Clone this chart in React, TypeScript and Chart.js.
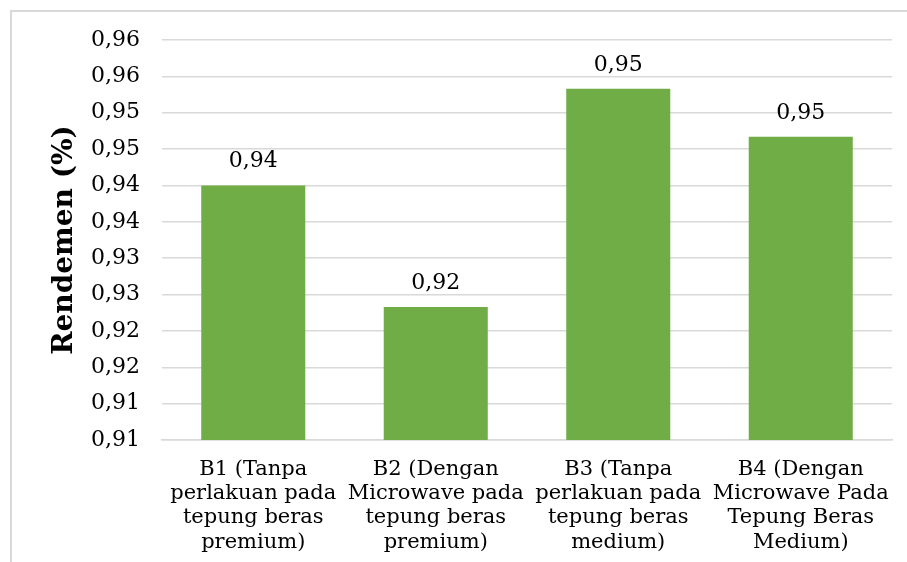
import React, { useEffect, useRef } from "react";
import { Chart, registerables } from "chart.js";

Chart.register(...registerables);

const categories: string[][] = [
  ["B1 (Tanpa", "perlakuan pada", "tepung beras", "premium)"],
  ["B2 (Dengan", "Microwave pada", "tepung beras", "premium)"],
  ["B3 (Tanpa", "perlakuan pada", "tepung beras", "medium)"],
  ["B4 (Dengan", "Microwave Pada", "Tepung Beras", "Medium)"],
];
const rendemen: number[] = [0.94, 0.9233, 0.9533, 0.9467];
const yTickLabels: string[] = [
  "0,91", "0,91", "0,92", "0,92", "0,93", "0,93",
  "0,94", "0,94", "0,95", "0,95", "0,96", "0,96",
];

const FONT = "'DejaVu Serif', 'Liberation Serif', serif";

const valueLabels = {
  id: "valueLabels",
  afterDatasetsDraw(chart: any) {
    const ctx = chart.ctx;
    const meta = chart.getDatasetMeta(0);
    ctx.save();
    ctx.font = `22px ${FONT}`;
    ctx.fillStyle = "#000000";
    ctx.textAlign = "center";
    ctx.textBaseline = "alphabetic";
    meta.data.forEach((el: any, i: number) => {
      const v = chart.data.datasets[0].data[i] as number;
      ctx.fillText(v.toFixed(2).replace(".", ","), el.x, el.y - 18);
    });
    ctx.restore();
  },
};

export default function App() {
  const ref = useRef<HTMLCanvasElement>(null);
  useEffect(() => {
    if (!ref.current) return;
    const chart = new Chart(ref.current, {
      type: "bar",
      data: {
        labels: categories,
        datasets: [
          {
            data: rendemen,
            backgroundColor: "#70AD47",
            barPercentage: 0.57,
            categoryPercentage: 1,
          },
        ],
      },
      options: {
        animation: false,
        responsive: false,
        layout: { padding: { top: 40, right: 15, left: 0, bottom: 0 } },
        plugins: { legend: { display: false }, tooltip: { enabled: false } },
        scales: {
          x: {
            grid: { display: false },
            border: { display: true, color: "#d9d9d9", width: 1.5 },
            ticks: {
              color: "#000000",
              font: { family: FONT, size: 21, lineHeight: 1.16 },
              padding: 9,
              maxRotation: 0,
              autoSkip: false,
            },
            afterFit: (s: any) => {
              s.height = 122;
            },
          },
          y: {
            min: 0.905,
            max: 0.96,
            ticks: {
              stepSize: 0.005,
              color: "#000000",
              font: { family: FONT, size: 22 },
              padding: 22,
              callback: (_v: any, i: number) => yTickLabels[i],
            },
            grid: { color: "#d9d9d9", lineWidth: 1.5, drawTicks: false },
            border: { display: false },
            title: {
              display: true,
              text: "Rendemen (%)",
              color: "#000000",
              font: { family: FONT, size: 28, weight: "bold" },
              padding: { top: 48, bottom: 0 },
            },
            afterFit: (s: any) => {
              s.width = 162;
            },
          },
        },
      },
      plugins: [valueLabels],
    });
    return () => chart.destroy();
  }, []);
  return (
    <div style={{ position: "fixed", left: 0, top: 0, width: 907, height: 562, background: "#fff" }}>
      <div
        style={{
          position: "absolute",
          left: 10,
          top: 10,
          right: -2,
          bottom: -2,
          borderLeft: "2px solid #d9d9d9",
          borderTop: "2px solid #d9d9d9",
        }}
      />
      <canvas ref={ref} width={907} height={562} style={{ position: "absolute", left: 0, top: 0 }} />
    </div>
  );
}
